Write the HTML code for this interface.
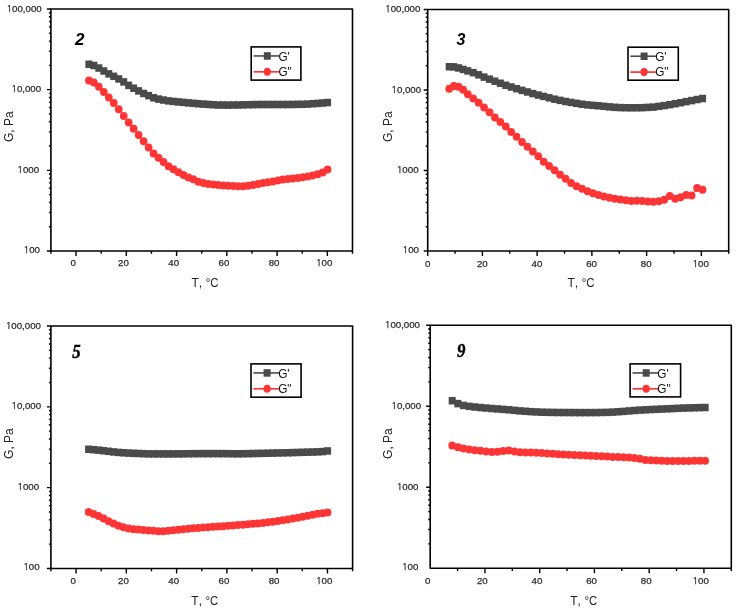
<!DOCTYPE html>
<html><head><meta charset="utf-8"><style>
html,body{margin:0;padding:0;background:#fff;}
svg{display:block;}
.tl{font-family:"Liberation Sans",Arial,sans-serif;font-size:9.7px;fill:#2a2a2a;stroke:#2a2a2a;stroke-width:0.25px;}
.al{font-family:"Liberation Sans",Arial,sans-serif;font-size:12px;fill:#222;font-kerning:none;}
.tl.one{font-family:"NanumGothic","Liberation Sans",sans-serif;font-size:9.35px;}
.lg{font-family:"Liberation Sans",Arial,sans-serif;font-size:11.8px;fill:#111;}
.ns{font-family:"Liberation Sans",Arial,sans-serif;font-size:17px;font-weight:bold;font-style:italic;fill:#000;}
.nsu{font-family:"Liberation Sans",Arial,sans-serif;font-size:17px;font-weight:bold;fill:#000;}
.nf{font-family:"Liberation Serif","Times New Roman",serif;font-size:18px;font-weight:bold;font-style:italic;fill:#000;stroke:#000;stroke-width:0.45px;}
</style></head><body>
<svg width="736" height="611" viewBox="0 0 736 611">
<rect width="736" height="611" fill="#fff"/>
<polyline points="88.90,64.27 93.87,65.49 98.85,68.02 103.82,70.97 108.79,73.85 113.76,76.33 118.74,78.95 123.71,81.95 128.68,85.35 133.66,88.22 138.63,90.91 143.60,93.48 148.58,95.62 153.55,97.77 158.52,99.08 163.49,100.03 168.47,100.90 173.44,101.42 178.41,101.93 183.39,102.40 188.36,102.85 193.33,103.30 198.30,103.75 203.28,104.11 208.25,104.42 213.22,104.73 218.20,105.01 223.17,105.05 228.14,105.09 233.11,105.04 238.09,104.94 243.06,104.83 248.03,104.71 253.01,104.59 257.98,104.53 262.95,104.50 267.93,104.50 272.90,104.50 277.87,104.50 282.84,104.50 287.82,104.50 292.79,104.45 297.76,104.37 302.74,104.29 307.71,104.07 312.68,103.74 317.65,103.41 322.63,103.00 327.60,102.54" fill="none" stroke="#4a4a4a" stroke-width="1"/>
<rect x="85.40" y="60.52" width="7" height="7.5" fill="#4a4a4a"/>
<rect x="90.37" y="61.74" width="7" height="7.5" fill="#4a4a4a"/>
<rect x="95.35" y="64.27" width="7" height="7.5" fill="#4a4a4a"/>
<rect x="100.32" y="67.22" width="7" height="7.5" fill="#4a4a4a"/>
<rect x="105.29" y="70.10" width="7" height="7.5" fill="#4a4a4a"/>
<rect x="110.26" y="72.58" width="7" height="7.5" fill="#4a4a4a"/>
<rect x="115.24" y="75.20" width="7" height="7.5" fill="#4a4a4a"/>
<rect x="120.21" y="78.20" width="7" height="7.5" fill="#4a4a4a"/>
<rect x="125.18" y="81.60" width="7" height="7.5" fill="#4a4a4a"/>
<rect x="130.16" y="84.47" width="7" height="7.5" fill="#4a4a4a"/>
<rect x="135.13" y="87.16" width="7" height="7.5" fill="#4a4a4a"/>
<rect x="140.10" y="89.73" width="7" height="7.5" fill="#4a4a4a"/>
<rect x="145.08" y="91.87" width="7" height="7.5" fill="#4a4a4a"/>
<rect x="150.05" y="94.02" width="7" height="7.5" fill="#4a4a4a"/>
<rect x="155.02" y="95.33" width="7" height="7.5" fill="#4a4a4a"/>
<rect x="159.99" y="96.28" width="7" height="7.5" fill="#4a4a4a"/>
<rect x="164.97" y="97.15" width="7" height="7.5" fill="#4a4a4a"/>
<rect x="169.94" y="97.67" width="7" height="7.5" fill="#4a4a4a"/>
<rect x="174.91" y="98.18" width="7" height="7.5" fill="#4a4a4a"/>
<rect x="179.89" y="98.65" width="7" height="7.5" fill="#4a4a4a"/>
<rect x="184.86" y="99.10" width="7" height="7.5" fill="#4a4a4a"/>
<rect x="189.83" y="99.55" width="7" height="7.5" fill="#4a4a4a"/>
<rect x="194.80" y="100.00" width="7" height="7.5" fill="#4a4a4a"/>
<rect x="199.78" y="100.36" width="7" height="7.5" fill="#4a4a4a"/>
<rect x="204.75" y="100.67" width="7" height="7.5" fill="#4a4a4a"/>
<rect x="209.72" y="100.98" width="7" height="7.5" fill="#4a4a4a"/>
<rect x="214.70" y="101.26" width="7" height="7.5" fill="#4a4a4a"/>
<rect x="219.67" y="101.30" width="7" height="7.5" fill="#4a4a4a"/>
<rect x="224.64" y="101.34" width="7" height="7.5" fill="#4a4a4a"/>
<rect x="229.61" y="101.29" width="7" height="7.5" fill="#4a4a4a"/>
<rect x="234.59" y="101.19" width="7" height="7.5" fill="#4a4a4a"/>
<rect x="239.56" y="101.08" width="7" height="7.5" fill="#4a4a4a"/>
<rect x="244.53" y="100.96" width="7" height="7.5" fill="#4a4a4a"/>
<rect x="249.51" y="100.84" width="7" height="7.5" fill="#4a4a4a"/>
<rect x="254.48" y="100.78" width="7" height="7.5" fill="#4a4a4a"/>
<rect x="259.45" y="100.75" width="7" height="7.5" fill="#4a4a4a"/>
<rect x="264.43" y="100.75" width="7" height="7.5" fill="#4a4a4a"/>
<rect x="269.40" y="100.75" width="7" height="7.5" fill="#4a4a4a"/>
<rect x="274.37" y="100.75" width="7" height="7.5" fill="#4a4a4a"/>
<rect x="279.34" y="100.75" width="7" height="7.5" fill="#4a4a4a"/>
<rect x="284.32" y="100.75" width="7" height="7.5" fill="#4a4a4a"/>
<rect x="289.29" y="100.70" width="7" height="7.5" fill="#4a4a4a"/>
<rect x="294.26" y="100.62" width="7" height="7.5" fill="#4a4a4a"/>
<rect x="299.24" y="100.54" width="7" height="7.5" fill="#4a4a4a"/>
<rect x="304.21" y="100.32" width="7" height="7.5" fill="#4a4a4a"/>
<rect x="309.18" y="99.99" width="7" height="7.5" fill="#4a4a4a"/>
<rect x="314.15" y="99.66" width="7" height="7.5" fill="#4a4a4a"/>
<rect x="319.13" y="99.25" width="7" height="7.5" fill="#4a4a4a"/>
<rect x="324.10" y="98.79" width="7" height="7.5" fill="#4a4a4a"/>
<polyline points="88.90,80.56 93.87,82.60 98.85,86.85 103.82,92.08 108.79,97.55 113.76,103.02 118.74,109.23 123.71,116.10 128.68,122.54 133.66,128.76 138.63,134.98 143.60,141.23 148.58,147.50 153.55,153.42 158.52,157.79 163.49,162.11 168.47,166.21 173.44,169.34 178.41,172.36 183.39,174.90 188.36,177.38 193.33,179.17 198.30,181.65 203.28,183.05 208.25,183.88 213.22,184.60 218.20,185.02 223.17,185.45 228.14,185.76 233.11,186.01 238.09,186.15 243.06,186.24 248.03,185.80 253.01,185.02 257.98,184.04 262.95,183.01 267.93,182.37 272.90,181.53 277.87,180.56 282.84,179.59 287.82,178.93 292.79,178.40 297.76,177.88 302.74,177.15 307.71,176.38 312.68,175.62 317.65,174.17 322.63,172.60 327.60,169.55" fill="none" stroke="#ff3535" stroke-width="1"/>
<ellipse cx="88.90" cy="80.56" rx="3.85" ry="4.0" fill="#ff3535"/>
<ellipse cx="93.87" cy="82.60" rx="3.85" ry="4.0" fill="#ff3535"/>
<ellipse cx="98.85" cy="86.85" rx="3.85" ry="4.0" fill="#ff3535"/>
<ellipse cx="103.82" cy="92.08" rx="3.85" ry="4.0" fill="#ff3535"/>
<ellipse cx="108.79" cy="97.55" rx="3.85" ry="4.0" fill="#ff3535"/>
<ellipse cx="113.76" cy="103.02" rx="3.85" ry="4.0" fill="#ff3535"/>
<ellipse cx="118.74" cy="109.23" rx="3.85" ry="4.0" fill="#ff3535"/>
<ellipse cx="123.71" cy="116.10" rx="3.85" ry="4.0" fill="#ff3535"/>
<ellipse cx="128.68" cy="122.54" rx="3.85" ry="4.0" fill="#ff3535"/>
<ellipse cx="133.66" cy="128.76" rx="3.85" ry="4.0" fill="#ff3535"/>
<ellipse cx="138.63" cy="134.98" rx="3.85" ry="4.0" fill="#ff3535"/>
<ellipse cx="143.60" cy="141.23" rx="3.85" ry="4.0" fill="#ff3535"/>
<ellipse cx="148.58" cy="147.50" rx="3.85" ry="4.0" fill="#ff3535"/>
<ellipse cx="153.55" cy="153.42" rx="3.85" ry="4.0" fill="#ff3535"/>
<ellipse cx="158.52" cy="157.79" rx="3.85" ry="4.0" fill="#ff3535"/>
<ellipse cx="163.49" cy="162.11" rx="3.85" ry="4.0" fill="#ff3535"/>
<ellipse cx="168.47" cy="166.21" rx="3.85" ry="4.0" fill="#ff3535"/>
<ellipse cx="173.44" cy="169.34" rx="3.85" ry="4.0" fill="#ff3535"/>
<ellipse cx="178.41" cy="172.36" rx="3.85" ry="4.0" fill="#ff3535"/>
<ellipse cx="183.39" cy="174.90" rx="3.85" ry="4.0" fill="#ff3535"/>
<ellipse cx="188.36" cy="177.38" rx="3.85" ry="4.0" fill="#ff3535"/>
<ellipse cx="193.33" cy="179.17" rx="3.85" ry="4.0" fill="#ff3535"/>
<ellipse cx="198.30" cy="181.65" rx="3.85" ry="4.0" fill="#ff3535"/>
<ellipse cx="203.28" cy="183.05" rx="3.85" ry="4.0" fill="#ff3535"/>
<ellipse cx="208.25" cy="183.88" rx="3.85" ry="4.0" fill="#ff3535"/>
<ellipse cx="213.22" cy="184.60" rx="3.85" ry="4.0" fill="#ff3535"/>
<ellipse cx="218.20" cy="185.02" rx="3.85" ry="4.0" fill="#ff3535"/>
<ellipse cx="223.17" cy="185.45" rx="3.85" ry="4.0" fill="#ff3535"/>
<ellipse cx="228.14" cy="185.76" rx="3.85" ry="4.0" fill="#ff3535"/>
<ellipse cx="233.11" cy="186.01" rx="3.85" ry="4.0" fill="#ff3535"/>
<ellipse cx="238.09" cy="186.15" rx="3.85" ry="4.0" fill="#ff3535"/>
<ellipse cx="243.06" cy="186.24" rx="3.85" ry="4.0" fill="#ff3535"/>
<ellipse cx="248.03" cy="185.80" rx="3.85" ry="4.0" fill="#ff3535"/>
<ellipse cx="253.01" cy="185.02" rx="3.85" ry="4.0" fill="#ff3535"/>
<ellipse cx="257.98" cy="184.04" rx="3.85" ry="4.0" fill="#ff3535"/>
<ellipse cx="262.95" cy="183.01" rx="3.85" ry="4.0" fill="#ff3535"/>
<ellipse cx="267.93" cy="182.37" rx="3.85" ry="4.0" fill="#ff3535"/>
<ellipse cx="272.90" cy="181.53" rx="3.85" ry="4.0" fill="#ff3535"/>
<ellipse cx="277.87" cy="180.56" rx="3.85" ry="4.0" fill="#ff3535"/>
<ellipse cx="282.84" cy="179.59" rx="3.85" ry="4.0" fill="#ff3535"/>
<ellipse cx="287.82" cy="178.93" rx="3.85" ry="4.0" fill="#ff3535"/>
<ellipse cx="292.79" cy="178.40" rx="3.85" ry="4.0" fill="#ff3535"/>
<ellipse cx="297.76" cy="177.88" rx="3.85" ry="4.0" fill="#ff3535"/>
<ellipse cx="302.74" cy="177.15" rx="3.85" ry="4.0" fill="#ff3535"/>
<ellipse cx="307.71" cy="176.38" rx="3.85" ry="4.0" fill="#ff3535"/>
<ellipse cx="312.68" cy="175.62" rx="3.85" ry="4.0" fill="#ff3535"/>
<ellipse cx="317.65" cy="174.17" rx="3.85" ry="4.0" fill="#ff3535"/>
<ellipse cx="322.63" cy="172.60" rx="3.85" ry="4.0" fill="#ff3535"/>
<ellipse cx="327.60" cy="169.55" rx="3.85" ry="4.0" fill="#ff3535"/>
<path d="M46.90 251.00H50.90 M46.90 170.33H50.90 M46.90 89.67H50.90 M46.90 9.00H50.90 M48.90 226.72H50.90 M48.90 212.51H50.90 M48.90 202.43H50.90 M48.90 194.62H50.90 M48.90 188.23H50.90 M48.90 182.83H50.90 M48.90 178.15H50.90 M48.90 174.02H50.90 M48.90 146.05H50.90 M48.90 131.85H50.90 M48.90 121.77H50.90 M48.90 113.95H50.90 M48.90 107.56H50.90 M48.90 102.16H50.90 M48.90 97.48H50.90 M48.90 93.36H50.90 M48.90 65.38H50.90 M48.90 51.18H50.90 M48.90 41.10H50.90 M48.90 33.28H50.90 M48.90 26.90H50.90 M48.90 21.50H50.90 M48.90 16.82H50.90 M48.90 12.69H50.90 M50.90 251.00V253.80 M76.03 251.00V256.00 M101.17 251.00V253.80 M126.30 251.00V256.00 M151.43 251.00V253.80 M176.57 251.00V256.00 M201.70 251.00V253.80 M226.83 251.00V256.00 M251.97 251.00V253.80 M277.10 251.00V256.00 M302.23 251.00V253.80 M327.37 251.00V256.00 M352.50 251.00V253.80" stroke="#000" stroke-width="1.4" fill="none"/>
<rect x="50.90" y="9.00" width="301.60" height="242.00" fill="none" stroke="#000" stroke-width="1.6" stroke-linejoin="round"/>
<text x="6.39" y="11.90" class="tl one">1</text><text x="12.04" y="11.90" class="tl">00,000</text>
<text x="11.24" y="91.75" class="tl one">1</text><text x="16.88" y="91.75" class="tl">0,000</text>
<text x="17.33" y="172.50" class="tl one">1</text><text x="22.97" y="172.50" class="tl">000</text>
<text x="23.52" y="252.60" class="tl one">1</text><text x="29.16" y="252.60" class="tl">00</text>
<text x="70.60" y="266.40" class="tl">0</text>
<text x="118.11" y="266.40" class="tl">20</text>
<text x="168.31" y="266.40" class="tl">40</text>
<text x="218.51" y="266.40" class="tl">60</text>
<text x="268.71" y="266.40" class="tl">80</text>
<text x="315.96" y="266.40" class="tl one">1</text><text x="321.60" y="266.40" class="tl">00</text>
<text x="191.50" y="286.90" class="al">T,</text>
<text x="205.70" y="286.90" class="al" textLength="12.8" lengthAdjust="spacingAndGlyphs">°C</text>
<text transform="translate(12.90 126.75) rotate(-90)" class="al" text-anchor="middle">G, Pa</text>
<rect x="251.20" y="46.90" width="49.70" height="33.20" fill="#fff" stroke="#000" stroke-width="1.6"/>
<path d="M253.60 55.95H279.40" stroke="#4a4a4a" stroke-width="1.6"/>
<rect x="263.80" y="52.20" width="7" height="7.5" fill="#4a4a4a"/>
<path d="M253.60 71.80H279.40" stroke="#ff3535" stroke-width="1.7"/>
<ellipse cx="267.30" cy="71.80" rx="3.6" ry="4.05" fill="#ff3535"/>
<text transform="translate(278.40 60.50) scale(1 1.1)" class="lg">G'</text>
<text transform="translate(278.40 75.60) scale(1 1.1)" class="lg">G"</text>
<text x="75.00" y="45.10" class="ns">2</text>
<polyline points="449.20,66.75 453.85,66.87 458.50,67.98 463.15,69.43 467.80,70.91 473.22,72.67 478.64,74.80 484.06,77.10 489.48,79.18 494.90,81.21 500.32,83.25 505.74,85.24 511.16,87.00 516.58,88.72 522.00,90.35 527.42,91.98 532.84,93.60 538.26,95.06 543.68,96.42 549.10,97.80 554.58,99.19 560.06,100.36 565.55,101.49 571.03,102.42 576.51,103.34 581.99,104.22 587.48,104.90 592.96,105.34 598.44,105.78 603.92,106.31 609.40,106.88 614.89,107.33 620.37,107.61 625.85,107.71 631.33,107.79 636.81,107.74 642.30,107.68 647.78,107.39 653.26,107.10 658.74,106.36 664.23,105.61 669.71,104.69 675.19,103.76 680.67,102.71 686.15,101.65 691.64,100.59 697.12,99.54 702.60,98.50" fill="none" stroke="#4a4a4a" stroke-width="1"/>
<rect x="445.70" y="63.00" width="7" height="7.5" fill="#4a4a4a"/>
<rect x="450.35" y="63.12" width="7" height="7.5" fill="#4a4a4a"/>
<rect x="455.00" y="64.23" width="7" height="7.5" fill="#4a4a4a"/>
<rect x="459.65" y="65.68" width="7" height="7.5" fill="#4a4a4a"/>
<rect x="464.30" y="67.16" width="7" height="7.5" fill="#4a4a4a"/>
<rect x="469.72" y="68.92" width="7" height="7.5" fill="#4a4a4a"/>
<rect x="475.14" y="71.05" width="7" height="7.5" fill="#4a4a4a"/>
<rect x="480.56" y="73.35" width="7" height="7.5" fill="#4a4a4a"/>
<rect x="485.98" y="75.43" width="7" height="7.5" fill="#4a4a4a"/>
<rect x="491.40" y="77.46" width="7" height="7.5" fill="#4a4a4a"/>
<rect x="496.82" y="79.50" width="7" height="7.5" fill="#4a4a4a"/>
<rect x="502.24" y="81.49" width="7" height="7.5" fill="#4a4a4a"/>
<rect x="507.66" y="83.25" width="7" height="7.5" fill="#4a4a4a"/>
<rect x="513.08" y="84.97" width="7" height="7.5" fill="#4a4a4a"/>
<rect x="518.50" y="86.60" width="7" height="7.5" fill="#4a4a4a"/>
<rect x="523.92" y="88.23" width="7" height="7.5" fill="#4a4a4a"/>
<rect x="529.34" y="89.85" width="7" height="7.5" fill="#4a4a4a"/>
<rect x="534.76" y="91.31" width="7" height="7.5" fill="#4a4a4a"/>
<rect x="540.18" y="92.67" width="7" height="7.5" fill="#4a4a4a"/>
<rect x="545.60" y="94.05" width="7" height="7.5" fill="#4a4a4a"/>
<rect x="551.08" y="95.44" width="7" height="7.5" fill="#4a4a4a"/>
<rect x="556.56" y="96.61" width="7" height="7.5" fill="#4a4a4a"/>
<rect x="562.05" y="97.74" width="7" height="7.5" fill="#4a4a4a"/>
<rect x="567.53" y="98.67" width="7" height="7.5" fill="#4a4a4a"/>
<rect x="573.01" y="99.59" width="7" height="7.5" fill="#4a4a4a"/>
<rect x="578.49" y="100.47" width="7" height="7.5" fill="#4a4a4a"/>
<rect x="583.98" y="101.15" width="7" height="7.5" fill="#4a4a4a"/>
<rect x="589.46" y="101.59" width="7" height="7.5" fill="#4a4a4a"/>
<rect x="594.94" y="102.03" width="7" height="7.5" fill="#4a4a4a"/>
<rect x="600.42" y="102.56" width="7" height="7.5" fill="#4a4a4a"/>
<rect x="605.90" y="103.13" width="7" height="7.5" fill="#4a4a4a"/>
<rect x="611.39" y="103.58" width="7" height="7.5" fill="#4a4a4a"/>
<rect x="616.87" y="103.86" width="7" height="7.5" fill="#4a4a4a"/>
<rect x="622.35" y="103.96" width="7" height="7.5" fill="#4a4a4a"/>
<rect x="627.83" y="104.04" width="7" height="7.5" fill="#4a4a4a"/>
<rect x="633.31" y="103.99" width="7" height="7.5" fill="#4a4a4a"/>
<rect x="638.80" y="103.93" width="7" height="7.5" fill="#4a4a4a"/>
<rect x="644.28" y="103.64" width="7" height="7.5" fill="#4a4a4a"/>
<rect x="649.76" y="103.35" width="7" height="7.5" fill="#4a4a4a"/>
<rect x="655.24" y="102.61" width="7" height="7.5" fill="#4a4a4a"/>
<rect x="660.73" y="101.86" width="7" height="7.5" fill="#4a4a4a"/>
<rect x="666.21" y="100.94" width="7" height="7.5" fill="#4a4a4a"/>
<rect x="671.69" y="100.01" width="7" height="7.5" fill="#4a4a4a"/>
<rect x="677.17" y="98.96" width="7" height="7.5" fill="#4a4a4a"/>
<rect x="682.65" y="97.90" width="7" height="7.5" fill="#4a4a4a"/>
<rect x="688.14" y="96.84" width="7" height="7.5" fill="#4a4a4a"/>
<rect x="693.62" y="95.79" width="7" height="7.5" fill="#4a4a4a"/>
<rect x="699.10" y="94.75" width="7" height="7.5" fill="#4a4a4a"/>
<polyline points="449.20,88.80 453.85,86.01 458.50,86.86 463.15,89.75 467.80,94.29 473.22,98.52 478.64,102.74 484.06,107.41 489.48,112.28 494.90,117.58 500.32,121.88 505.74,126.46 511.16,131.95 516.58,136.73 522.00,142.05 527.42,146.83 532.84,151.62 538.26,156.36 543.68,161.67 549.10,165.90 554.58,170.28 560.06,174.65 565.55,178.79 571.03,182.92 576.51,186.14 581.99,188.86 587.48,191.30 592.96,193.22 598.44,195.11 603.92,196.47 609.40,197.83 614.89,198.77 620.37,199.60 625.85,200.35 631.33,201.02 636.81,200.77 642.30,201.03 647.78,201.43 653.26,201.67 658.74,201.27 664.23,199.77 669.71,195.91 675.19,198.69 680.67,197.31 686.15,195.06 691.64,195.39 697.12,187.91 702.60,189.80" fill="none" stroke="#ff3535" stroke-width="1"/>
<ellipse cx="449.20" cy="88.80" rx="3.85" ry="4.0" fill="#ff3535"/>
<ellipse cx="453.85" cy="86.01" rx="3.85" ry="4.0" fill="#ff3535"/>
<ellipse cx="458.50" cy="86.86" rx="3.85" ry="4.0" fill="#ff3535"/>
<ellipse cx="463.15" cy="89.75" rx="3.85" ry="4.0" fill="#ff3535"/>
<ellipse cx="467.80" cy="94.29" rx="3.85" ry="4.0" fill="#ff3535"/>
<ellipse cx="473.22" cy="98.52" rx="3.85" ry="4.0" fill="#ff3535"/>
<ellipse cx="478.64" cy="102.74" rx="3.85" ry="4.0" fill="#ff3535"/>
<ellipse cx="484.06" cy="107.41" rx="3.85" ry="4.0" fill="#ff3535"/>
<ellipse cx="489.48" cy="112.28" rx="3.85" ry="4.0" fill="#ff3535"/>
<ellipse cx="494.90" cy="117.58" rx="3.85" ry="4.0" fill="#ff3535"/>
<ellipse cx="500.32" cy="121.88" rx="3.85" ry="4.0" fill="#ff3535"/>
<ellipse cx="505.74" cy="126.46" rx="3.85" ry="4.0" fill="#ff3535"/>
<ellipse cx="511.16" cy="131.95" rx="3.85" ry="4.0" fill="#ff3535"/>
<ellipse cx="516.58" cy="136.73" rx="3.85" ry="4.0" fill="#ff3535"/>
<ellipse cx="522.00" cy="142.05" rx="3.85" ry="4.0" fill="#ff3535"/>
<ellipse cx="527.42" cy="146.83" rx="3.85" ry="4.0" fill="#ff3535"/>
<ellipse cx="532.84" cy="151.62" rx="3.85" ry="4.0" fill="#ff3535"/>
<ellipse cx="538.26" cy="156.36" rx="3.85" ry="4.0" fill="#ff3535"/>
<ellipse cx="543.68" cy="161.67" rx="3.85" ry="4.0" fill="#ff3535"/>
<ellipse cx="549.10" cy="165.90" rx="3.85" ry="4.0" fill="#ff3535"/>
<ellipse cx="554.58" cy="170.28" rx="3.85" ry="4.0" fill="#ff3535"/>
<ellipse cx="560.06" cy="174.65" rx="3.85" ry="4.0" fill="#ff3535"/>
<ellipse cx="565.55" cy="178.79" rx="3.85" ry="4.0" fill="#ff3535"/>
<ellipse cx="571.03" cy="182.92" rx="3.85" ry="4.0" fill="#ff3535"/>
<ellipse cx="576.51" cy="186.14" rx="3.85" ry="4.0" fill="#ff3535"/>
<ellipse cx="581.99" cy="188.86" rx="3.85" ry="4.0" fill="#ff3535"/>
<ellipse cx="587.48" cy="191.30" rx="3.85" ry="4.0" fill="#ff3535"/>
<ellipse cx="592.96" cy="193.22" rx="3.85" ry="4.0" fill="#ff3535"/>
<ellipse cx="598.44" cy="195.11" rx="3.85" ry="4.0" fill="#ff3535"/>
<ellipse cx="603.92" cy="196.47" rx="3.85" ry="4.0" fill="#ff3535"/>
<ellipse cx="609.40" cy="197.83" rx="3.85" ry="4.0" fill="#ff3535"/>
<ellipse cx="614.89" cy="198.77" rx="3.85" ry="4.0" fill="#ff3535"/>
<ellipse cx="620.37" cy="199.60" rx="3.85" ry="4.0" fill="#ff3535"/>
<ellipse cx="625.85" cy="200.35" rx="3.85" ry="4.0" fill="#ff3535"/>
<ellipse cx="631.33" cy="201.02" rx="3.85" ry="4.0" fill="#ff3535"/>
<ellipse cx="636.81" cy="200.77" rx="3.85" ry="4.0" fill="#ff3535"/>
<ellipse cx="642.30" cy="201.03" rx="3.85" ry="4.0" fill="#ff3535"/>
<ellipse cx="647.78" cy="201.43" rx="3.85" ry="4.0" fill="#ff3535"/>
<ellipse cx="653.26" cy="201.67" rx="3.85" ry="4.0" fill="#ff3535"/>
<ellipse cx="658.74" cy="201.27" rx="3.85" ry="4.0" fill="#ff3535"/>
<ellipse cx="664.23" cy="199.77" rx="3.85" ry="4.0" fill="#ff3535"/>
<ellipse cx="669.71" cy="195.91" rx="3.85" ry="4.0" fill="#ff3535"/>
<ellipse cx="675.19" cy="198.69" rx="3.85" ry="4.0" fill="#ff3535"/>
<ellipse cx="680.67" cy="197.31" rx="3.85" ry="4.0" fill="#ff3535"/>
<ellipse cx="686.15" cy="195.06" rx="3.85" ry="4.0" fill="#ff3535"/>
<ellipse cx="691.64" cy="195.39" rx="3.85" ry="4.0" fill="#ff3535"/>
<ellipse cx="697.12" cy="187.91" rx="3.85" ry="4.0" fill="#ff3535"/>
<ellipse cx="702.60" cy="189.80" rx="3.85" ry="4.0" fill="#ff3535"/>
<path d="M423.70 251.00H427.70 M423.70 170.50H427.70 M423.70 90.00H427.70 M423.70 9.50H427.70 M425.70 226.77H427.70 M425.70 212.59H427.70 M425.70 202.53H427.70 M425.70 194.73H427.70 M425.70 188.36H427.70 M425.70 182.97H427.70 M425.70 178.30H427.70 M425.70 174.18H427.70 M425.70 146.27H427.70 M425.70 132.09H427.70 M425.70 122.03H427.70 M425.70 114.23H427.70 M425.70 107.86H427.70 M425.70 102.47H427.70 M425.70 97.80H427.70 M425.70 93.68H427.70 M425.70 65.77H427.70 M425.70 51.59H427.70 M425.70 41.53H427.70 M425.70 33.73H427.70 M425.70 27.36H427.70 M425.70 21.97H427.70 M425.70 17.30H427.70 M425.70 13.18H427.70 M427.70 251.00V256.00 M455.06 251.00V253.80 M482.43 251.00V256.00 M509.79 251.00V253.80 M537.15 251.00V256.00 M564.52 251.00V253.80 M591.88 251.00V256.00 M619.25 251.00V253.80 M646.61 251.00V256.00 M673.97 251.00V253.80 M701.34 251.00V256.00 M728.70 251.00V253.80" stroke="#000" stroke-width="1.4" fill="none"/>
<rect x="427.70" y="9.50" width="301.00" height="241.50" fill="none" stroke="#000" stroke-width="1.6" stroke-linejoin="round"/>
<text x="385.04" y="11.70" class="tl one">1</text><text x="390.69" y="11.70" class="tl">00,000</text>
<text x="391.24" y="92.50" class="tl one">1</text><text x="396.88" y="92.50" class="tl">0,000</text>
<text x="396.73" y="173.10" class="tl one">1</text><text x="402.37" y="173.10" class="tl">000</text>
<text x="402.52" y="253.05" class="tl one">1</text><text x="408.16" y="253.05" class="tl">00</text>
<text x="425.05" y="267.00" class="tl">0</text>
<text x="476.96" y="267.00" class="tl">20</text>
<text x="531.56" y="267.00" class="tl">40</text>
<text x="586.16" y="267.00" class="tl">60</text>
<text x="640.76" y="267.00" class="tl">80</text>
<text x="692.41" y="267.00" class="tl one">1</text><text x="698.05" y="267.00" class="tl">00</text>
<text x="567.50" y="287.20" class="al">T,</text>
<text x="581.70" y="287.20" class="al" textLength="12.8" lengthAdjust="spacingAndGlyphs">°C</text>
<text transform="translate(391.90 126.75) rotate(-90)" class="al" text-anchor="middle">G, Pa</text>
<rect x="628.00" y="47.20" width="50.30" height="33.00" fill="#fff" stroke="#000" stroke-width="1.6"/>
<path d="M630.40 56.25H656.20" stroke="#4a4a4a" stroke-width="1.6"/>
<rect x="640.60" y="52.50" width="7" height="7.5" fill="#4a4a4a"/>
<path d="M630.40 72.10H656.20" stroke="#ff3535" stroke-width="1.7"/>
<ellipse cx="644.10" cy="72.10" rx="3.6" ry="4.05" fill="#ff3535"/>
<text transform="translate(655.20 60.80) scale(1 1.1)" class="lg">G'</text>
<text transform="translate(655.20 75.90) scale(1 1.1)" class="lg">G"</text>
<text x="456.50" y="45.00" class="ns" textLength="8.9" lengthAdjust="spacingAndGlyphs">3</text>
<polyline points="88.60,449.27 93.58,449.72 98.56,450.17 103.54,450.72 108.52,451.32 113.50,451.92 118.47,452.42 123.45,452.76 128.43,453.09 133.41,453.32 138.39,453.50 143.37,453.68 148.35,453.86 153.33,453.90 158.31,453.90 163.29,453.90 168.27,453.90 173.25,453.90 178.22,453.86 183.20,453.80 188.18,453.73 193.16,453.68 198.14,453.65 203.12,453.61 208.10,453.60 213.08,453.60 218.06,453.60 223.04,453.63 228.02,453.68 233.00,453.73 237.97,453.78 242.95,453.74 247.93,453.64 252.91,453.54 257.89,453.44 262.87,453.34 267.85,453.23 272.83,453.10 277.81,452.98 282.79,452.86 287.77,452.73 292.75,452.59 297.73,452.45 302.70,452.31 307.68,452.17 312.66,452.01 317.64,451.84 322.62,451.59 327.60,450.95" fill="none" stroke="#4a4a4a" stroke-width="1"/>
<rect x="85.10" y="445.52" width="7" height="7.5" fill="#4a4a4a"/>
<rect x="90.08" y="445.97" width="7" height="7.5" fill="#4a4a4a"/>
<rect x="95.06" y="446.42" width="7" height="7.5" fill="#4a4a4a"/>
<rect x="100.04" y="446.97" width="7" height="7.5" fill="#4a4a4a"/>
<rect x="105.02" y="447.57" width="7" height="7.5" fill="#4a4a4a"/>
<rect x="110.00" y="448.17" width="7" height="7.5" fill="#4a4a4a"/>
<rect x="114.97" y="448.67" width="7" height="7.5" fill="#4a4a4a"/>
<rect x="119.95" y="449.01" width="7" height="7.5" fill="#4a4a4a"/>
<rect x="124.93" y="449.34" width="7" height="7.5" fill="#4a4a4a"/>
<rect x="129.91" y="449.57" width="7" height="7.5" fill="#4a4a4a"/>
<rect x="134.89" y="449.75" width="7" height="7.5" fill="#4a4a4a"/>
<rect x="139.87" y="449.93" width="7" height="7.5" fill="#4a4a4a"/>
<rect x="144.85" y="450.11" width="7" height="7.5" fill="#4a4a4a"/>
<rect x="149.83" y="450.15" width="7" height="7.5" fill="#4a4a4a"/>
<rect x="154.81" y="450.15" width="7" height="7.5" fill="#4a4a4a"/>
<rect x="159.79" y="450.15" width="7" height="7.5" fill="#4a4a4a"/>
<rect x="164.77" y="450.15" width="7" height="7.5" fill="#4a4a4a"/>
<rect x="169.75" y="450.15" width="7" height="7.5" fill="#4a4a4a"/>
<rect x="174.72" y="450.11" width="7" height="7.5" fill="#4a4a4a"/>
<rect x="179.70" y="450.05" width="7" height="7.5" fill="#4a4a4a"/>
<rect x="184.68" y="449.98" width="7" height="7.5" fill="#4a4a4a"/>
<rect x="189.66" y="449.93" width="7" height="7.5" fill="#4a4a4a"/>
<rect x="194.64" y="449.90" width="7" height="7.5" fill="#4a4a4a"/>
<rect x="199.62" y="449.86" width="7" height="7.5" fill="#4a4a4a"/>
<rect x="204.60" y="449.85" width="7" height="7.5" fill="#4a4a4a"/>
<rect x="209.58" y="449.85" width="7" height="7.5" fill="#4a4a4a"/>
<rect x="214.56" y="449.85" width="7" height="7.5" fill="#4a4a4a"/>
<rect x="219.54" y="449.88" width="7" height="7.5" fill="#4a4a4a"/>
<rect x="224.52" y="449.93" width="7" height="7.5" fill="#4a4a4a"/>
<rect x="229.50" y="449.98" width="7" height="7.5" fill="#4a4a4a"/>
<rect x="234.47" y="450.03" width="7" height="7.5" fill="#4a4a4a"/>
<rect x="239.45" y="449.99" width="7" height="7.5" fill="#4a4a4a"/>
<rect x="244.43" y="449.89" width="7" height="7.5" fill="#4a4a4a"/>
<rect x="249.41" y="449.79" width="7" height="7.5" fill="#4a4a4a"/>
<rect x="254.39" y="449.69" width="7" height="7.5" fill="#4a4a4a"/>
<rect x="259.37" y="449.59" width="7" height="7.5" fill="#4a4a4a"/>
<rect x="264.35" y="449.48" width="7" height="7.5" fill="#4a4a4a"/>
<rect x="269.33" y="449.35" width="7" height="7.5" fill="#4a4a4a"/>
<rect x="274.31" y="449.23" width="7" height="7.5" fill="#4a4a4a"/>
<rect x="279.29" y="449.11" width="7" height="7.5" fill="#4a4a4a"/>
<rect x="284.27" y="448.98" width="7" height="7.5" fill="#4a4a4a"/>
<rect x="289.25" y="448.84" width="7" height="7.5" fill="#4a4a4a"/>
<rect x="294.23" y="448.70" width="7" height="7.5" fill="#4a4a4a"/>
<rect x="299.20" y="448.56" width="7" height="7.5" fill="#4a4a4a"/>
<rect x="304.18" y="448.42" width="7" height="7.5" fill="#4a4a4a"/>
<rect x="309.16" y="448.26" width="7" height="7.5" fill="#4a4a4a"/>
<rect x="314.14" y="448.09" width="7" height="7.5" fill="#4a4a4a"/>
<rect x="319.12" y="447.84" width="7" height="7.5" fill="#4a4a4a"/>
<rect x="324.10" y="447.20" width="7" height="7.5" fill="#4a4a4a"/>
<polyline points="88.60,512.00 93.58,513.92 98.56,516.08 103.54,518.59 108.52,521.24 113.50,523.59 118.47,525.68 123.45,527.30 128.43,528.39 133.41,529.22 138.39,529.62 143.37,530.01 148.35,530.41 153.33,530.86 158.31,531.34 163.29,531.23 168.27,530.81 173.25,530.36 178.22,529.78 183.20,529.21 188.18,528.73 193.16,528.32 198.14,527.92 203.12,527.58 208.10,527.23 213.08,526.87 218.06,526.50 223.04,526.13 228.02,525.78 233.00,525.44 237.97,525.06 242.95,524.66 247.93,524.27 252.91,523.85 257.89,523.38 262.87,522.89 267.85,522.29 272.83,521.68 277.81,520.95 282.79,520.21 287.77,519.48 292.75,518.62 297.73,517.71 302.70,516.81 307.68,515.86 312.66,514.87 317.64,513.87 322.62,513.13 327.60,512.42" fill="none" stroke="#ff3535" stroke-width="1"/>
<ellipse cx="88.60" cy="512.00" rx="3.85" ry="4.0" fill="#ff3535"/>
<ellipse cx="93.58" cy="513.92" rx="3.85" ry="4.0" fill="#ff3535"/>
<ellipse cx="98.56" cy="516.08" rx="3.85" ry="4.0" fill="#ff3535"/>
<ellipse cx="103.54" cy="518.59" rx="3.85" ry="4.0" fill="#ff3535"/>
<ellipse cx="108.52" cy="521.24" rx="3.85" ry="4.0" fill="#ff3535"/>
<ellipse cx="113.50" cy="523.59" rx="3.85" ry="4.0" fill="#ff3535"/>
<ellipse cx="118.47" cy="525.68" rx="3.85" ry="4.0" fill="#ff3535"/>
<ellipse cx="123.45" cy="527.30" rx="3.85" ry="4.0" fill="#ff3535"/>
<ellipse cx="128.43" cy="528.39" rx="3.85" ry="4.0" fill="#ff3535"/>
<ellipse cx="133.41" cy="529.22" rx="3.85" ry="4.0" fill="#ff3535"/>
<ellipse cx="138.39" cy="529.62" rx="3.85" ry="4.0" fill="#ff3535"/>
<ellipse cx="143.37" cy="530.01" rx="3.85" ry="4.0" fill="#ff3535"/>
<ellipse cx="148.35" cy="530.41" rx="3.85" ry="4.0" fill="#ff3535"/>
<ellipse cx="153.33" cy="530.86" rx="3.85" ry="4.0" fill="#ff3535"/>
<ellipse cx="158.31" cy="531.34" rx="3.85" ry="4.0" fill="#ff3535"/>
<ellipse cx="163.29" cy="531.23" rx="3.85" ry="4.0" fill="#ff3535"/>
<ellipse cx="168.27" cy="530.81" rx="3.85" ry="4.0" fill="#ff3535"/>
<ellipse cx="173.25" cy="530.36" rx="3.85" ry="4.0" fill="#ff3535"/>
<ellipse cx="178.22" cy="529.78" rx="3.85" ry="4.0" fill="#ff3535"/>
<ellipse cx="183.20" cy="529.21" rx="3.85" ry="4.0" fill="#ff3535"/>
<ellipse cx="188.18" cy="528.73" rx="3.85" ry="4.0" fill="#ff3535"/>
<ellipse cx="193.16" cy="528.32" rx="3.85" ry="4.0" fill="#ff3535"/>
<ellipse cx="198.14" cy="527.92" rx="3.85" ry="4.0" fill="#ff3535"/>
<ellipse cx="203.12" cy="527.58" rx="3.85" ry="4.0" fill="#ff3535"/>
<ellipse cx="208.10" cy="527.23" rx="3.85" ry="4.0" fill="#ff3535"/>
<ellipse cx="213.08" cy="526.87" rx="3.85" ry="4.0" fill="#ff3535"/>
<ellipse cx="218.06" cy="526.50" rx="3.85" ry="4.0" fill="#ff3535"/>
<ellipse cx="223.04" cy="526.13" rx="3.85" ry="4.0" fill="#ff3535"/>
<ellipse cx="228.02" cy="525.78" rx="3.85" ry="4.0" fill="#ff3535"/>
<ellipse cx="233.00" cy="525.44" rx="3.85" ry="4.0" fill="#ff3535"/>
<ellipse cx="237.97" cy="525.06" rx="3.85" ry="4.0" fill="#ff3535"/>
<ellipse cx="242.95" cy="524.66" rx="3.85" ry="4.0" fill="#ff3535"/>
<ellipse cx="247.93" cy="524.27" rx="3.85" ry="4.0" fill="#ff3535"/>
<ellipse cx="252.91" cy="523.85" rx="3.85" ry="4.0" fill="#ff3535"/>
<ellipse cx="257.89" cy="523.38" rx="3.85" ry="4.0" fill="#ff3535"/>
<ellipse cx="262.87" cy="522.89" rx="3.85" ry="4.0" fill="#ff3535"/>
<ellipse cx="267.85" cy="522.29" rx="3.85" ry="4.0" fill="#ff3535"/>
<ellipse cx="272.83" cy="521.68" rx="3.85" ry="4.0" fill="#ff3535"/>
<ellipse cx="277.81" cy="520.95" rx="3.85" ry="4.0" fill="#ff3535"/>
<ellipse cx="282.79" cy="520.21" rx="3.85" ry="4.0" fill="#ff3535"/>
<ellipse cx="287.77" cy="519.48" rx="3.85" ry="4.0" fill="#ff3535"/>
<ellipse cx="292.75" cy="518.62" rx="3.85" ry="4.0" fill="#ff3535"/>
<ellipse cx="297.73" cy="517.71" rx="3.85" ry="4.0" fill="#ff3535"/>
<ellipse cx="302.70" cy="516.81" rx="3.85" ry="4.0" fill="#ff3535"/>
<ellipse cx="307.68" cy="515.86" rx="3.85" ry="4.0" fill="#ff3535"/>
<ellipse cx="312.66" cy="514.87" rx="3.85" ry="4.0" fill="#ff3535"/>
<ellipse cx="317.64" cy="513.87" rx="3.85" ry="4.0" fill="#ff3535"/>
<ellipse cx="322.62" cy="513.13" rx="3.85" ry="4.0" fill="#ff3535"/>
<ellipse cx="327.60" cy="512.42" rx="3.85" ry="4.0" fill="#ff3535"/>
<path d="M46.90 568.50H50.90 M46.90 487.67H50.90 M46.90 406.83H50.90 M46.90 326.00H50.90 M48.90 544.17H50.90 M48.90 529.93H50.90 M48.90 519.83H50.90 M48.90 512.00H50.90 M48.90 505.60H50.90 M48.90 500.19H50.90 M48.90 495.50H50.90 M48.90 491.37H50.90 M48.90 463.33H50.90 M48.90 449.10H50.90 M48.90 439.00H50.90 M48.90 431.17H50.90 M48.90 424.77H50.90 M48.90 419.35H50.90 M48.90 414.67H50.90 M48.90 410.53H50.90 M48.90 382.50H50.90 M48.90 368.27H50.90 M48.90 358.17H50.90 M48.90 350.33H50.90 M48.90 343.93H50.90 M48.90 338.52H50.90 M48.90 333.83H50.90 M48.90 329.70H50.90 M50.90 568.50V571.30 M76.04 568.50V573.50 M101.18 568.50V571.30 M126.33 568.50V573.50 M151.47 568.50V571.30 M176.61 568.50V573.50 M201.75 568.50V571.30 M226.89 568.50V573.50 M252.03 568.50V571.30 M277.18 568.50V573.50 M302.32 568.50V571.30 M327.46 568.50V573.50 M352.60 568.50V571.30" stroke="#000" stroke-width="1.4" fill="none"/>
<rect x="50.90" y="326.00" width="301.70" height="242.50" fill="none" stroke="#000" stroke-width="1.6" stroke-linejoin="round"/>
<text x="5.64" y="328.50" class="tl one">1</text><text x="11.29" y="328.50" class="tl">00,000</text>
<text x="11.24" y="409.00" class="tl one">1</text><text x="16.88" y="409.00" class="tl">0,000</text>
<text x="17.33" y="490.05" class="tl one">1</text><text x="22.97" y="490.05" class="tl">000</text>
<text x="23.22" y="570.10" class="tl one">1</text><text x="28.86" y="570.10" class="tl">00</text>
<text x="70.60" y="584.00" class="tl">0</text>
<text x="118.11" y="584.00" class="tl">20</text>
<text x="168.31" y="584.00" class="tl">40</text>
<text x="218.51" y="584.00" class="tl">60</text>
<text x="268.71" y="584.00" class="tl">80</text>
<text x="315.96" y="584.00" class="tl one">1</text><text x="321.60" y="584.00" class="tl">00</text>
<text x="191.30" y="604.80" class="al">T,</text>
<text x="205.50" y="604.80" class="al" textLength="12.8" lengthAdjust="spacingAndGlyphs">°C</text>
<text transform="translate(12.90 443.55) rotate(-90)" class="al" text-anchor="middle">G, Pa</text>
<rect x="251.00" y="363.90" width="50.10" height="33.30" fill="#fff" stroke="#000" stroke-width="1.6"/>
<path d="M253.40 372.95H279.20" stroke="#4a4a4a" stroke-width="1.6"/>
<rect x="263.60" y="369.20" width="7" height="7.5" fill="#4a4a4a"/>
<path d="M253.40 388.80H279.20" stroke="#ff3535" stroke-width="1.7"/>
<ellipse cx="267.10" cy="388.80" rx="3.6" ry="4.05" fill="#ff3535"/>
<text transform="translate(278.20 377.50) scale(1 1.1)" class="lg">G'</text>
<text transform="translate(278.20 392.60) scale(1 1.1)" class="lg">G"</text>
<text x="72.20" y="357.60" class="nf" textLength="8.4" lengthAdjust="spacingAndGlyphs">5</text>
<polyline points="452.20,400.71 457.86,403.62 463.53,405.43 469.19,406.37 474.85,407.00 480.52,407.57 486.18,408.06 491.85,408.54 497.51,408.96 503.17,409.39 508.84,409.81 514.50,410.35 519.95,410.90 525.40,411.28 530.86,411.64 536.31,411.93 541.76,412.21 547.21,412.33 552.67,412.42 558.12,412.50 563.57,412.53 569.02,412.55 574.47,412.58 579.93,412.60 585.38,412.60 590.83,412.60 596.28,412.57 601.73,412.47 607.19,412.36 612.64,412.12 618.09,411.76 623.54,411.40 629.00,410.95 634.45,410.48 639.90,410.09 645.34,409.81 650.78,409.54 656.23,409.30 661.67,409.06 667.11,408.82 672.55,408.57 677.99,408.32 683.43,408.07 688.88,407.90 694.32,407.77 699.76,407.63 705.20,407.50" fill="none" stroke="#4a4a4a" stroke-width="1"/>
<rect x="448.70" y="396.96" width="7" height="7.5" fill="#4a4a4a"/>
<rect x="454.36" y="399.87" width="7" height="7.5" fill="#4a4a4a"/>
<rect x="460.03" y="401.68" width="7" height="7.5" fill="#4a4a4a"/>
<rect x="465.69" y="402.62" width="7" height="7.5" fill="#4a4a4a"/>
<rect x="471.35" y="403.25" width="7" height="7.5" fill="#4a4a4a"/>
<rect x="477.02" y="403.82" width="7" height="7.5" fill="#4a4a4a"/>
<rect x="482.68" y="404.31" width="7" height="7.5" fill="#4a4a4a"/>
<rect x="488.35" y="404.79" width="7" height="7.5" fill="#4a4a4a"/>
<rect x="494.01" y="405.21" width="7" height="7.5" fill="#4a4a4a"/>
<rect x="499.67" y="405.64" width="7" height="7.5" fill="#4a4a4a"/>
<rect x="505.34" y="406.06" width="7" height="7.5" fill="#4a4a4a"/>
<rect x="511.00" y="406.60" width="7" height="7.5" fill="#4a4a4a"/>
<rect x="516.45" y="407.15" width="7" height="7.5" fill="#4a4a4a"/>
<rect x="521.90" y="407.53" width="7" height="7.5" fill="#4a4a4a"/>
<rect x="527.36" y="407.89" width="7" height="7.5" fill="#4a4a4a"/>
<rect x="532.81" y="408.18" width="7" height="7.5" fill="#4a4a4a"/>
<rect x="538.26" y="408.46" width="7" height="7.5" fill="#4a4a4a"/>
<rect x="543.71" y="408.58" width="7" height="7.5" fill="#4a4a4a"/>
<rect x="549.17" y="408.67" width="7" height="7.5" fill="#4a4a4a"/>
<rect x="554.62" y="408.75" width="7" height="7.5" fill="#4a4a4a"/>
<rect x="560.07" y="408.78" width="7" height="7.5" fill="#4a4a4a"/>
<rect x="565.52" y="408.80" width="7" height="7.5" fill="#4a4a4a"/>
<rect x="570.97" y="408.83" width="7" height="7.5" fill="#4a4a4a"/>
<rect x="576.43" y="408.85" width="7" height="7.5" fill="#4a4a4a"/>
<rect x="581.88" y="408.85" width="7" height="7.5" fill="#4a4a4a"/>
<rect x="587.33" y="408.85" width="7" height="7.5" fill="#4a4a4a"/>
<rect x="592.78" y="408.82" width="7" height="7.5" fill="#4a4a4a"/>
<rect x="598.23" y="408.72" width="7" height="7.5" fill="#4a4a4a"/>
<rect x="603.69" y="408.61" width="7" height="7.5" fill="#4a4a4a"/>
<rect x="609.14" y="408.37" width="7" height="7.5" fill="#4a4a4a"/>
<rect x="614.59" y="408.01" width="7" height="7.5" fill="#4a4a4a"/>
<rect x="620.04" y="407.65" width="7" height="7.5" fill="#4a4a4a"/>
<rect x="625.50" y="407.20" width="7" height="7.5" fill="#4a4a4a"/>
<rect x="630.95" y="406.73" width="7" height="7.5" fill="#4a4a4a"/>
<rect x="636.40" y="406.34" width="7" height="7.5" fill="#4a4a4a"/>
<rect x="641.84" y="406.06" width="7" height="7.5" fill="#4a4a4a"/>
<rect x="647.28" y="405.79" width="7" height="7.5" fill="#4a4a4a"/>
<rect x="652.73" y="405.55" width="7" height="7.5" fill="#4a4a4a"/>
<rect x="658.17" y="405.31" width="7" height="7.5" fill="#4a4a4a"/>
<rect x="663.61" y="405.07" width="7" height="7.5" fill="#4a4a4a"/>
<rect x="669.05" y="404.82" width="7" height="7.5" fill="#4a4a4a"/>
<rect x="674.49" y="404.57" width="7" height="7.5" fill="#4a4a4a"/>
<rect x="679.93" y="404.32" width="7" height="7.5" fill="#4a4a4a"/>
<rect x="685.38" y="404.15" width="7" height="7.5" fill="#4a4a4a"/>
<rect x="690.82" y="404.02" width="7" height="7.5" fill="#4a4a4a"/>
<rect x="696.26" y="403.88" width="7" height="7.5" fill="#4a4a4a"/>
<rect x="701.70" y="403.75" width="7" height="7.5" fill="#4a4a4a"/>
<polyline points="452.20,445.60 457.86,447.32 463.53,448.53 469.19,449.48 474.85,450.23 480.52,450.82 486.18,451.62 491.85,451.96 497.51,451.71 503.17,450.99 508.84,450.54 514.50,451.51 519.95,452.29 525.40,452.44 530.86,452.61 536.31,452.78 541.76,453.02 547.21,453.43 552.67,453.84 558.12,454.23 563.57,454.50 569.02,454.76 574.47,455.03 579.93,455.30 585.38,455.48 590.83,455.66 596.28,455.89 601.73,456.25 607.19,456.61 612.64,456.89 618.09,457.07 623.54,457.25 629.00,457.59 634.45,458.01 639.90,458.82 645.34,459.91 650.78,460.34 656.23,460.57 661.67,460.78 667.11,460.93 672.55,461.01 677.99,461.08 683.43,461.04 688.88,460.95 694.32,460.87 699.76,460.79 705.20,460.71" fill="none" stroke="#ff3535" stroke-width="1"/>
<ellipse cx="452.20" cy="445.60" rx="3.85" ry="4.0" fill="#ff3535"/>
<ellipse cx="457.86" cy="447.32" rx="3.85" ry="4.0" fill="#ff3535"/>
<ellipse cx="463.53" cy="448.53" rx="3.85" ry="4.0" fill="#ff3535"/>
<ellipse cx="469.19" cy="449.48" rx="3.85" ry="4.0" fill="#ff3535"/>
<ellipse cx="474.85" cy="450.23" rx="3.85" ry="4.0" fill="#ff3535"/>
<ellipse cx="480.52" cy="450.82" rx="3.85" ry="4.0" fill="#ff3535"/>
<ellipse cx="486.18" cy="451.62" rx="3.85" ry="4.0" fill="#ff3535"/>
<ellipse cx="491.85" cy="451.96" rx="3.85" ry="4.0" fill="#ff3535"/>
<ellipse cx="497.51" cy="451.71" rx="3.85" ry="4.0" fill="#ff3535"/>
<ellipse cx="503.17" cy="450.99" rx="3.85" ry="4.0" fill="#ff3535"/>
<ellipse cx="508.84" cy="450.54" rx="3.85" ry="4.0" fill="#ff3535"/>
<ellipse cx="514.50" cy="451.51" rx="3.85" ry="4.0" fill="#ff3535"/>
<ellipse cx="519.95" cy="452.29" rx="3.85" ry="4.0" fill="#ff3535"/>
<ellipse cx="525.40" cy="452.44" rx="3.85" ry="4.0" fill="#ff3535"/>
<ellipse cx="530.86" cy="452.61" rx="3.85" ry="4.0" fill="#ff3535"/>
<ellipse cx="536.31" cy="452.78" rx="3.85" ry="4.0" fill="#ff3535"/>
<ellipse cx="541.76" cy="453.02" rx="3.85" ry="4.0" fill="#ff3535"/>
<ellipse cx="547.21" cy="453.43" rx="3.85" ry="4.0" fill="#ff3535"/>
<ellipse cx="552.67" cy="453.84" rx="3.85" ry="4.0" fill="#ff3535"/>
<ellipse cx="558.12" cy="454.23" rx="3.85" ry="4.0" fill="#ff3535"/>
<ellipse cx="563.57" cy="454.50" rx="3.85" ry="4.0" fill="#ff3535"/>
<ellipse cx="569.02" cy="454.76" rx="3.85" ry="4.0" fill="#ff3535"/>
<ellipse cx="574.47" cy="455.03" rx="3.85" ry="4.0" fill="#ff3535"/>
<ellipse cx="579.93" cy="455.30" rx="3.85" ry="4.0" fill="#ff3535"/>
<ellipse cx="585.38" cy="455.48" rx="3.85" ry="4.0" fill="#ff3535"/>
<ellipse cx="590.83" cy="455.66" rx="3.85" ry="4.0" fill="#ff3535"/>
<ellipse cx="596.28" cy="455.89" rx="3.85" ry="4.0" fill="#ff3535"/>
<ellipse cx="601.73" cy="456.25" rx="3.85" ry="4.0" fill="#ff3535"/>
<ellipse cx="607.19" cy="456.61" rx="3.85" ry="4.0" fill="#ff3535"/>
<ellipse cx="612.64" cy="456.89" rx="3.85" ry="4.0" fill="#ff3535"/>
<ellipse cx="618.09" cy="457.07" rx="3.85" ry="4.0" fill="#ff3535"/>
<ellipse cx="623.54" cy="457.25" rx="3.85" ry="4.0" fill="#ff3535"/>
<ellipse cx="629.00" cy="457.59" rx="3.85" ry="4.0" fill="#ff3535"/>
<ellipse cx="634.45" cy="458.01" rx="3.85" ry="4.0" fill="#ff3535"/>
<ellipse cx="639.90" cy="458.82" rx="3.85" ry="4.0" fill="#ff3535"/>
<ellipse cx="645.34" cy="459.91" rx="3.85" ry="4.0" fill="#ff3535"/>
<ellipse cx="650.78" cy="460.34" rx="3.85" ry="4.0" fill="#ff3535"/>
<ellipse cx="656.23" cy="460.57" rx="3.85" ry="4.0" fill="#ff3535"/>
<ellipse cx="661.67" cy="460.78" rx="3.85" ry="4.0" fill="#ff3535"/>
<ellipse cx="667.11" cy="460.93" rx="3.85" ry="4.0" fill="#ff3535"/>
<ellipse cx="672.55" cy="461.01" rx="3.85" ry="4.0" fill="#ff3535"/>
<ellipse cx="677.99" cy="461.08" rx="3.85" ry="4.0" fill="#ff3535"/>
<ellipse cx="683.43" cy="461.04" rx="3.85" ry="4.0" fill="#ff3535"/>
<ellipse cx="688.88" cy="460.95" rx="3.85" ry="4.0" fill="#ff3535"/>
<ellipse cx="694.32" cy="460.87" rx="3.85" ry="4.0" fill="#ff3535"/>
<ellipse cx="699.76" cy="460.79" rx="3.85" ry="4.0" fill="#ff3535"/>
<ellipse cx="705.20" cy="460.71" rx="3.85" ry="4.0" fill="#ff3535"/>
<path d="M426.20 487.23H430.20 M426.20 406.27H430.20 M426.20 325.30H430.20 M428.20 543.83H430.20 M428.20 529.57H430.20 M428.20 519.45H430.20 M428.20 511.61H430.20 M428.20 505.20H430.20 M428.20 499.78H430.20 M428.20 495.08H430.20 M428.20 490.94H430.20 M428.20 462.86H430.20 M428.20 448.60H430.20 M428.20 438.49H430.20 M428.20 430.64H430.20 M428.20 424.23H430.20 M428.20 418.81H430.20 M428.20 414.11H430.20 M428.20 409.97H430.20 M428.20 381.89H430.20 M428.20 367.64H430.20 M428.20 357.52H430.20 M428.20 349.67H430.20 M428.20 343.26H430.20 M428.20 337.84H430.20 M428.20 333.15H430.20 M428.20 329.00H430.20 M457.57 568.20V571.00 M484.95 568.20V573.20 M512.32 568.20V571.00 M539.69 568.20V573.20 M567.06 568.20V571.00 M594.44 568.20V573.20 M621.81 568.20V571.00 M649.18 568.20V573.20 M676.55 568.20V571.00 M703.93 568.20V573.20 M731.30 568.20V571.00" stroke="#000" stroke-width="1.4" fill="none"/>
<rect x="430.20" y="325.30" width="301.10" height="242.90" fill="none" stroke="#000" stroke-width="1.6" stroke-linejoin="round"/>
<text x="384.74" y="328.40" class="tl one">1</text><text x="390.39" y="328.40" class="tl">00,000</text>
<text x="391.24" y="409.00" class="tl one">1</text><text x="396.88" y="409.00" class="tl">0,000</text>
<text x="396.63" y="490.10" class="tl one">1</text><text x="402.27" y="490.10" class="tl">000</text>
<text x="401.92" y="570.15" class="tl one">1</text><text x="407.56" y="570.15" class="tl">00</text>
<text x="425.05" y="584.00" class="tl">0</text>
<text x="476.96" y="584.00" class="tl">20</text>
<text x="531.56" y="584.00" class="tl">40</text>
<text x="586.16" y="584.00" class="tl">60</text>
<text x="640.76" y="584.00" class="tl">80</text>
<text x="692.41" y="584.00" class="tl one">1</text><text x="698.05" y="584.00" class="tl">00</text>
<text x="570.20" y="604.60" class="al">T,</text>
<text x="584.40" y="604.60" class="al" textLength="12.8" lengthAdjust="spacingAndGlyphs">°C</text>
<text transform="translate(392.20 443.55) rotate(-90)" class="al" text-anchor="middle">G, Pa</text>
<rect x="630.10" y="363.90" width="50.50" height="33.00" fill="#fff" stroke="#000" stroke-width="1.6"/>
<path d="M632.50 372.95H658.30" stroke="#4a4a4a" stroke-width="1.6"/>
<rect x="642.70" y="369.20" width="7" height="7.5" fill="#4a4a4a"/>
<path d="M632.50 388.80H658.30" stroke="#ff3535" stroke-width="1.7"/>
<ellipse cx="646.20" cy="388.80" rx="3.6" ry="4.05" fill="#ff3535"/>
<text transform="translate(657.30 377.50) scale(1 1.1)" class="lg">G'</text>
<text transform="translate(657.30 392.60) scale(1 1.1)" class="lg">G"</text>
<text x="457.10" y="357.00" class="nf" textLength="8.4" lengthAdjust="spacingAndGlyphs">9</text>
</svg>
</body></html>
